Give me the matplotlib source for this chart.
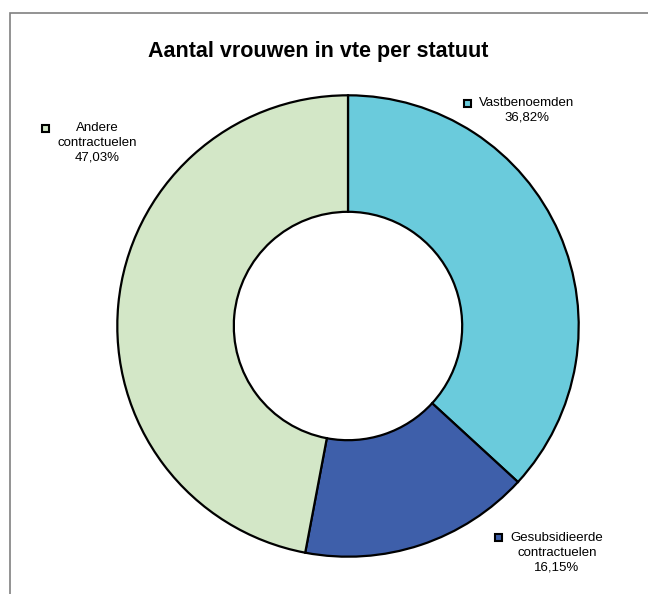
import matplotlib.pyplot as plt
from matplotlib.patches import Rectangle

plt.rcParams['font.family'] = ['Liberation Sans', 'DejaVu Sans']

# data
labels = ['Vastbenoemden', 'Gesubsidieerde\ncontractuelen', 'Andere\ncontractuelen']
shares = [36.82, 16.15, 47.03]
colors = ['#6ACBDC', '#3E5FAA', '#D3E7C7']
title = 'Aantal vrouwen in vte per statuut'

W, H = 648, 594
fig = plt.figure(figsize=(W / 100, H / 100), dpi=100)

# outer frame (runs off the right and bottom of the picture)
fig.patches.append(Rectangle((10 / W, -0.05), 1.1, 1 - 13 / H + 0.05,
                             transform=fig.transFigure, fill=False,
                             edgecolor='#808080', linewidth=1.2))

cx, cy, r = 348, 326, 233
ax = fig.add_axes([(cx - r) / W, (H - cy - r) / H, 2 * r / W, 2 * r / H])
wedges, _ = ax.pie(shares, colors=colors, startangle=90, counterclock=False,
                   radius=1.0,
                   wedgeprops=dict(width=0.505, edgecolor='black', linewidth=1.6))
ax.set_xlim(-1.01, 1.01)
ax.set_ylim(-1.01, 1.01)
ax.set_aspect('equal')
ax.axis('off')

fig.text(318 / W, 1 - 52 / H, title, ha='center', va='center',
         fontsize=15.5, fontweight='bold')

# data labels with legend key
label_pos = [(527, 110), (557, 553), (97, 143)]
key_pos = [(467, 103), (498, 537), (45, 128)]
for lab, val, col, (tx, ty), (kx, ky) in zip(labels, shares, colors, label_pos, key_pos):
    txt = lab + '\n' + ('%.2f%%' % val).replace('.', ',')
    fig.text(tx / W, 1 - ty / H, txt, ha='center', va='center',
             fontsize=9.5, linespacing=1.32)
    fig.patches.append(Rectangle(((kx - 3.5) / W, 1 - (ky + 3.5) / H), 7 / W, 7 / H,
                                 transform=fig.transFigure, facecolor=col,
                                 edgecolor='black', linewidth=1.5))

fig.savefig('out.png', dpi=100)
